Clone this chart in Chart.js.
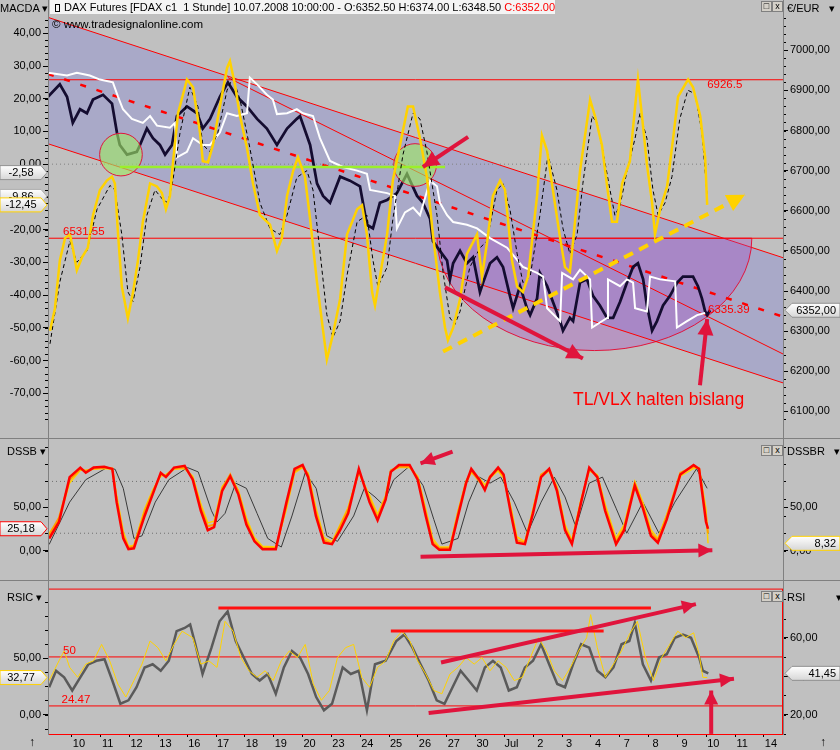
<!DOCTYPE html>
<html>
<head>
<meta charset="utf-8">
<script src="https://cdn.jsdelivr.net/npm/chart.js@4.4.1/dist/chart.umd.min.js"></script>
<style>
  body { margin: 0; width: 840px; height: 750px; background: #c0c0c0; position: relative; overflow: hidden; font-family: 'Liberation Sans', Arial, sans-serif; }
  canvas { position: absolute; left: 0; }
  .t { position: absolute; font-size: 11px; line-height: 14px; color: #000; white-space: pre; }
  .hl { position: absolute; left: 0; width: 840px; height: 1px; background: #808080; }
  .vl { position: absolute; width: 1px; background: #808080; }
  .btn { position: absolute; width: 9px; height: 9px; border: 1px solid #808080; background: #d4d0c8; font-size: 9px; line-height: 9px; text-align: center; }
</style>
</head>
<body>
<canvas id="macd" width="840" height="440" style="top:0"></canvas>
<canvas id="dss" width="840" height="142" style="top:438px"></canvas>
<canvas id="rsi" width="840" height="170" style="top:580px"></canvas>

<div class="hl" style="top:438px"></div>
<div class="hl" style="top:580px"></div>
<div class="vl" style="left:48px;top:0;height:735px"></div>
<div class="vl" style="left:783px;top:0;height:735px"></div>

<div class="t" style="left:0;top:1px">MACDA ▾</div>
<div class="t" style="left:50px;top:0;width:505px;height:14px;background:#f4f4f4"><span style="display:inline-block;width:3px;height:6px;border:1px solid #000;margin:0 4px 0 5px;position:relative;top:1px"></span>DAX Futures [FDAX c1  1 Stunde] 10.07.2008 10:00:00 - O:6352.50 H:6374.00 L:6348.50 <span style="color:#ff0000">C:6352.00</span></div>
<div class="t" style="left:52px;top:17px;font-size:11.5px">© www.tradesignalonline.com</div>
<div class="t" style="left:787px;top:1px">€/EUR   ▾</div>
<div class="btn" style="left:761px;top:1px">□</div>
<div class="btn" style="left:772px;top:1px">x</div>

<div class="t" style="left:7px;top:444px">DSSB ▾</div>
<div class="t" style="left:787px;top:444px">DSSBR   ▾</div>
<div class="btn" style="left:761px;top:445px">□</div>
<div class="btn" style="left:772px;top:445px">x</div>

<div class="t" style="left:7px;top:590px">RSIC ▾</div>
<div class="t" style="left:787px;top:590px">RSI          ▾</div>
<div class="btn" style="left:761px;top:591px">□</div>
<div class="btn" style="left:772px;top:591px">x</div>

<div class="t" style="left:29px;top:735px;font-size:12px">↑</div>
<div class="t" style="left:820px;top:735px;font-size:12px">↑</div>

<script>
// x axis: trading days (0 = 10 June), one unit per day
const dayLabels = ['10', '11', '12', '13', '16', '17', '18', '19', '20', '23', '24', '25', '26', '27', '30', 'Jul', '2', '3', '4', '7', '8', '9', '10', '11', '14'];
const X_MIN = -0.83, X_MAX = 24.66, X_END = 22.13;

// DAX future (hourly closes, approx.)
const priceDays = [-0.83, -0.42, -0.17, 0.03, 0.28, 0.52, 0.73, 1.08, 1.39, 1.56,
  1.66, 1.91, 2.25, 2.36, 2.60, 2.81, 3.05, 3.23, 3.47, 3.64,
  3.99, 4.34, 4.54, 4.79, 5.13, 5.41, 5.72, 6.07, 6.42, 6.76,
  7.11, 7.46, 7.80, 7.91, 8.26, 8.50, 8.71, 8.95, 9.30, 9.64,
  9.99, 10.23, 10.44, 10.68, 10.93, 11.27, 11.62, 11.97, 12.17, 12.42,
  12.52, 12.76, 13.01, 13.11, 13.22, 13.46, 13.70, 13.91, 14.15, 14.26,
  14.50, 14.74, 14.95, 15.19, 15.30, 15.54, 15.78, 15.89, 16.13, 16.23,
  16.48, 16.68, 16.93, 17.03, 17.27, 17.38, 17.62, 17.86, 18.07, 18.31,
  18.56, 18.77, 19.01, 19.25, 19.46, 19.63, 19.81, 19.94, 20.12, 20.29,
  20.50, 20.74, 20.99, 21.19, 21.54, 21.71, 21.85, 21.96, 22.03, 22.13];
const priceVals = [6884, 6915, 6884, 6819, 6853, 6843, 6877, 6889, 6867, 6795,
  6764, 6740, 6747, 6764, 6805, 6781, 6764, 6740, 6764, 6836,
  6860, 6843, 6805, 6829, 6884, 6920, 6884, 6860, 6829, 6805,
  6764, 6805, 6829, 6836, 6764, 6668, 6637, 6620, 6685, 6675,
  6661, 6565, 6556, 6620, 6627, 6644, 6692, 6637, 6620, 6580,
  6524, 6500, 6476, 6429, 6469, 6500, 6469, 6484, 6397, 6421,
  6469, 6484, 6460, 6388, 6357, 6412, 6357, 6340, 6381, 6445,
  6412, 6373, 6325, 6301, 6333, 6325, 6421, 6429, 6388, 6364,
  6333, 6333, 6373, 6421, 6460, 6469, 6429, 6364, 6301, 6325,
  6364, 6388, 6421, 6436, 6436, 6412, 6381, 6349, 6340, 6352];

// white stop line (VLX)
const vlxDays = [-0.83, -0.17, 0.17, 0.62, 0.97, 1.42, 1.60, 1.77, 2.08, 2.46,
  2.71, 2.95, 3.40, 3.57, 3.64, 3.99, 4.20, 4.54, 4.79, 5.13,
  5.38, 5.72, 6.07, 6.17, 6.42, 6.76, 6.97, 7.11, 7.46, 7.80,
  8.01, 8.36, 8.60, 8.95, 9.40, 9.89, 10.23, 10.34, 10.93, 11.20,
  11.27, 11.55, 11.83, 12.07, 12.42, 12.66, 12.76, 13.01, 13.22, 13.70,
  14.05, 14.50, 15.09, 15.64, 16.13, 16.34, 16.48, 16.93, 17.00, 17.38,
  17.62, 17.97, 18.04, 18.56, 18.59, 19.01, 19.25, 19.46, 19.53, 19.94,
  20.05, 20.40, 20.92, 20.98, 21.33, 21.68, 21.96];
const vlxVals = [6944, 6937, 6944, 6937, 6927, 6920, 6884, 6853, 6829, 6819,
  6836, 6812, 6807, 6819, 6733, 6747, 6781, 6764, 6764, 6795,
  6843, 6836, 6843, 6932, 6915, 6889, 6877, 6841, 6843, 6853,
  6843, 6836, 6781, 6724, 6709, 6700, 6692, 6652, 6644, 6637,
  6556, 6596, 6608, 6589, 6675, 6661, 6620, 6589, 6572, 6565,
  6556, 6532, 6508, 6460, 6445, 6436, 6357, 6325, 6445, 6429,
  6453, 6429, 6309, 6333, 6429, 6412, 6429, 6421, 6357, 6349,
  6436, 6429, 6424, 6309, 6325, 6340, 6345];

// MACDA (yellow) and its signal (dashed black)
const macdDays = [-0.76, -0.59, -0.42, -0.24, -0.07, 0.03, 0.17, 0.35, 0.55, 0.73,
  0.97, 1.21, 1.39, 1.49, 1.60, 1.73, 1.94, 2.12, 2.29, 2.46,
  2.71, 2.95, 3.12, 3.26, 3.40, 3.50, 3.68, 3.99, 4.20, 4.44,
  4.54, 4.72, 4.89, 5.13, 5.38, 5.48, 5.65, 5.83, 6.07, 6.28,
  6.52, 6.87, 7.11, 7.28, 7.46, 7.67, 7.84, 8.08, 8.26, 8.50,
  8.71, 8.84, 9.05, 9.30, 9.54, 9.89, 10.06, 10.23, 10.41, 10.51,
  10.68, 10.93, 11.13, 11.38, 11.65, 11.83, 12.07, 12.31, 12.52, 12.76,
  12.94, 13.04, 13.22, 13.46, 13.70, 14.05, 14.22, 14.39, 14.60, 14.85,
  15.02, 15.12, 15.26, 15.44, 15.64, 15.82, 16.13, 16.30, 16.48, 16.68,
  16.93, 17.10, 17.27, 17.38, 17.62, 17.97, 18.14, 18.38, 18.56, 18.73,
  18.90, 19.08, 19.35, 19.53, 19.63, 19.77, 19.94, 20.12, 20.22, 20.40,
  20.64, 20.85, 21.02, 21.37, 21.54, 21.79, 21.96, 22.03];
const macdVals = [-50.9, -44.1, -29.4, -22.6, -21.5, -25.6, -32.4, -28.5, -25.6, -15.6,
  -7.9, -5.0, -3.8, -5.9, -21.5, -37.4, -47.1, -39.1, -29.4, -17.6,
  -5.9, -6.8, -8.8, -13.8, -9.7, 0, 15.6, 25.9, 23.5, 9.7,
  0.9, 0.6, 5.9, 17.6, 29.4, 31.5, 24.4, 14.7, 5.0, -5.9,
  -15.6, -18.5, -26.5, -22.6, -9.7, -2.1, 2.1, -3.8, -16.8, -36.2,
  -50.9, -59.7, -52.1, -41.2, -21.5, -13.8, -12.6, -21.5, -39.1, -43.2,
  -34.4, -21.5, -5.0, 5.9, 17.6, 17.6, 7.9, -3.8, -21.5, -39.1,
  -50.0, -53.8, -50.0, -41.2, -27.4, -21.5, -34.4, -24.4, -9.7, -5.0,
  -7.9, -16.8, -29.4, -37.4, -39.1, -34.4, -9.7, 8.8, 4.0, -7.9,
  -22.6, -31.5, -32.9, -23.5, -2.1, 19.7, 14.7, 5.9, -6.8, -17.6,
  -17.6, -5.9, 0.9, 17.6, 25.9, 14.7, 0, -11.8, -21.5, -13.8,
  -6.8, 7.9, 20.6, 25.9, 23.5, 14.7, 2.1, -12.45];
const sigDays = [-0.76, -0.42, -0.07, 0.17, 0.52, 0.87, 1.32, 1.49, 1.73, 1.94,
  2.12, 2.36, 2.60, 2.88, 3.16, 3.33, 3.50, 3.75, 4.09, 4.37,
  4.54, 4.79, 5.06, 5.38, 5.58, 5.83, 6.17, 6.52, 6.87, 7.21,
  7.46, 7.80, 8.15, 8.36, 8.60, 8.84, 9.05, 9.30, 9.54, 9.89,
  10.23, 10.44, 10.61, 10.93, 11.13, 11.48, 11.83, 12.07, 12.31, 12.66,
  12.87, 13.11, 13.28, 13.46, 13.80, 14.15, 14.39, 14.74, 14.95, 15.19,
  15.44, 15.64, 15.89, 16.23, 16.51, 16.82, 17.03, 17.27, 17.52, 17.72,
  18.04, 18.21, 18.42, 18.66, 18.83, 19.01, 19.25, 19.53, 19.70, 19.94,
  20.15, 20.33, 20.57, 20.81, 21.08, 21.36, 21.61, 21.85, 22.03];
const sigVals = [-54.9, -36, -23.5, -30, -26.5, -13.8, -6.5, -7.9, -21.5, -39,
  -42, -31.5, -15.6, -7.9, -10.9, -11.8, -5, 9.7, 23.5, 17.6,
  5.9, 3.8, 9.7, 22.6, 26.5, 19.7, 5, -11.8, -19.7, -21.5,
  -15.6, -4, -2, -7.9, -26.5, -46, -53, -48, -34, -17.6,
  -15.6, -29.4, -37.4, -31.5, -16.8, 2.9, 15.6, 13.8, 3.8, -15.6,
  -33, -47, -49, -45, -31.5, -25.6, -23.5, -7.9, -5.9, -13.8,
  -27.4, -36.2, -34.4, -15.6, 2.9, -7.9, -19.7, -27.4, -21.5, -5.9,
  14.7, 12.6, 3.8, -7.9, -15.6, -12.6, -2.1, 7.9, 15.6, 7.9,
  -7.9, -15.6, -11.8, -3.8, 13.8, 22.6, 21.5, 9.7, -9.86];

// DSS Bressert (red / orange / yellow) and slow line (thin black)
const dssDays = [-0.79, -0.45, -0.08, 0.29, 0.48, 0.75, 1.12, 1.40, 1.55, 1.78,
  1.96, 2.15, 2.52, 2.80, 3.08, 3.26, 3.54, 3.91, 4.19, 4.47,
  4.71, 4.93, 5.21, 5.49, 5.77, 6.05, 6.33, 6.61, 7.07, 7.44,
  7.72, 8.00, 8.19, 8.46, 8.74, 9.02, 9.30, 9.58, 9.95, 10.32,
  10.60, 10.88, 11.06, 11.34, 11.71, 11.99, 12.27, 12.51, 12.74, 13.11,
  13.39, 13.67, 13.85, 14.13, 14.32, 14.50, 14.78, 14.97, 15.24, 15.43,
  15.71, 15.99, 16.27, 16.55, 16.82, 17.10, 17.34, 17.66, 17.94, 18.22,
  18.49, 18.87, 19.15, 19.52, 19.80, 20.08, 20.32, 20.63, 21.10, 21.56,
  21.75, 21.99, 22.06];
const dssRed = [13.9, 33, 85, 96, 90, 96, 97, 94.5, 56, 14,
  1.6, 2.6, 40, 65, 90, 85, 96, 98, 82, 46,
  23.5, 27, 69, 86, 65, 30, 10.6, 1.6, 1.6, 56,
  94.5, 99, 85, 40, 9, 7.4, 23.5, 43, 94.5, 56,
  35, 59, 91, 99, 99, 82, 40, 7.4, 1, 1,
  40, 78, 94.5, 82, 70, 85, 96, 88, 40, 9,
  7.4, 43, 85, 94.5, 69, 23.5, 7.4, 56, 96, 85,
  46, 7.4, 23.5, 75, 49, 17, 9, 36, 88, 99,
  94.5, 33, 25.18];
const dssOrange = [18, 38, 82, 94, 92, 95, 96, 95, 60, 18,
  3, 5, 45, 68, 88, 87, 95, 96, 84, 50,
  28, 30, 72, 88, 68, 34, 12, 3, 3, 52,
  92, 97, 88, 45, 12, 8, 28, 48, 92, 60,
  38, 62, 93, 97, 97, 84, 44, 10, 3, 3,
  44, 80, 92, 80, 72, 86, 94, 86, 44, 12,
  9, 46, 88, 94, 72, 26, 10, 58, 94, 86,
  50, 10, 26, 78, 52, 20, 12, 40, 90, 97,
  95, 40, 20];
const dssYellow = [20, 36, 78, 93, 93, 94, 95, 94, 64, 22,
  5, 6, 48, 70, 86, 88, 94, 95, 86, 54,
  32, 34, 74, 86, 70, 38, 15, 5, 4, 48,
  90, 96, 90, 50, 15, 10, 30, 50, 90, 64,
  42, 64, 92, 96, 96, 86, 48, 14, 4, 4,
  46, 78, 90, 84, 76, 84, 92, 84, 48, 16,
  10, 48, 86, 92, 74, 30, 12, 60, 92, 88,
  54, 14, 30, 80, 56, 24, 14, 42, 86, 95,
  96, 48, 8.32];
const dssSlowDays = [-0.79, -0.08, 0.48, 1.22, 1.50, 1.78, 2.15, 2.43, 2.89, 3.36,
  4.01, 4.38, 4.84, 5.03, 5.31, 5.68, 6.05, 6.42, 6.79, 7.26,
  7.63, 8.09, 8.47, 8.84, 9.21, 9.77, 10.14, 10.51, 10.79, 11.16,
  11.72, 12.18, 12.55, 12.83, 13.39, 13.76, 14.13, 14.50, 14.87, 15.34,
  15.80, 16.27, 16.73, 17.10, 17.48, 17.94, 18.40, 18.87, 19.24, 19.80,
  20.36, 20.91, 21.66, 22.03];
const dssSlowVals = [7, 56, 82, 96, 94, 72, 14, 17, 56, 82,
  96, 91, 46, 33, 43, 78, 72, 43, 14, 4,
  40, 90, 72, 17, 10.6, 40, 72, 62, 53, 82,
  98, 75, 36, 7.4, 14, 56, 85, 78, 85, 56,
  20, 56, 85, 62, 27, 78, 85, 49, 20, 56,
  20, 56, 94.5, 72];

// RSI (grey, right axis) and RSIC (yellow, left axis)
const rsiDays = [-0.79, -0.55, -0.27, 0.01, 0.29, 0.57, 0.85, 1.13, 1.40, 1.68,
  1.96, 2.24, 2.52, 2.80, 3.08, 3.36, 3.63, 3.91, 4.10, 4.28,
  4.53, 4.84, 5.12, 5.40, 5.68, 5.96, 6.24, 6.51, 6.79, 7.07,
  7.35, 7.63, 7.91, 8.19, 8.47, 8.74, 9.02, 9.39, 9.67, 9.95,
  10.23, 10.51, 10.88, 11.25, 11.53, 11.81, 12.09, 12.37, 12.65, 12.92,
  13.20, 13.48, 13.76, 14.04, 14.32, 14.60, 14.87, 15.15, 15.43, 15.71,
  15.99, 16.27, 16.55, 16.83, 17.10, 17.38, 17.66, 17.94, 18.22, 18.50,
  18.78, 19.06, 19.33, 19.52, 19.80, 20.08, 20.36, 20.63, 20.91, 21.19,
  21.47, 21.75, 21.88, 22.07];
const rsiVals = [34.2, 42.8, 39.4, 32.5, 39.4, 46.2, 48, 48.8, 37.7, 25.6,
  27.4, 34.2, 44.5, 46.2, 42.8, 48, 63.4, 65.1, 66.9, 56.6,
  41.1, 54.8, 68.6, 73.7, 58.3, 49.7, 41.1, 37.7, 41.1, 30.8,
  44.5, 53.1, 49.7, 41.1, 29.1, 22.2, 25.6, 44.5, 41.1, 42.8,
  22.2, 46.2, 48, 58.3, 61.7, 54.8, 46.2, 37.7, 27.4, 25.6,
  34.2, 42.8, 37.7, 32.5, 44.5, 48, 44.5, 32.5, 34.2, 44.5,
  48, 56.6, 46.2, 35.9, 34.2, 46.2, 56.6, 54.8, 42.8, 39.4,
  44.5, 56.6, 58.3, 67.7, 46.2, 37.7, 49.7, 51.4, 60, 61.7,
  60, 49.7, 42.8, 41.45];
const rsicDays = [-0.79, -0.45, -0.27, -0.08, 0.20, 0.48, 0.75, 1.03, 1.31, 1.59,
  1.87, 2.15, 2.43, 2.71, 2.98, 3.26, 3.54, 3.82, 4.19, 4.47,
  4.75, 5.03, 5.31, 5.59, 5.86, 6.14, 6.42, 6.70, 6.98, 7.26,
  7.54, 7.82, 8.09, 8.37, 8.65, 8.93, 9.21, 9.49, 9.77, 10.05,
  10.32, 10.60, 10.88, 11.16, 11.44, 11.72, 11.99, 12.27, 12.55, 12.83,
  13.11, 13.39, 13.67, 13.95, 14.22, 14.50, 14.78, 15.06, 15.34, 15.62,
  15.90, 16.18, 16.45, 16.73, 17.01, 17.29, 17.57, 17.85, 17.99, 18.22,
  18.50, 18.78, 19.06, 19.33, 19.61, 19.89, 20.17, 20.45, 20.73, 21.01,
  21.29, 21.56, 21.75, 21.88, 22.03];
const rsicVals = [30.1, 47.6, 56.4, 41.8, 33, 44.7, 47.6, 62.2, 47.6, 27.2,
  15.5, 30.1, 44.7, 65.2, 59.3, 47.6, 62.2, 73.9, 68.1, 44.7,
  47.6, 41.8, 82.7, 73.9, 50.5, 38.8, 33, 38.8, 30.1, 47.6,
  56.4, 50.5, 62.2, 27.2, 12.6, 21.3, 50.5, 59.3, 62.2, 33,
  24.2, 41.8, 47.6, 65.2, 73.9, 65.2, 47.6, 35.9, 21.3, 18.4,
  35.9, 41.8, 50.5, 44.7, 50.5, 38.8, 47.6, 41.8, 30.1, 33,
  50.5, 68.1, 56.4, 38.8, 30.1, 41.8, 56.4, 68.1, 88.6, 59.3,
  33, 44.7, 56.4, 71, 82.7, 50.5, 30.1, 50.5, 62.2, 73.9,
  68.1, 72.5, 53.5, 33, 32.77];

// drawn studies (day, value pairs)
const channelUpper = [7082, 6483];
const channelLower = [6767, 6171];
const channelMid = [6941, 6336];
const steepLine = [5.41, 6932, 24.66, 6243];
const priceLevels = [6926.5, 6531.55];
const greenLevel = [1.66, 12.94, 6709];
const yellowArrow = [12.87, 6249, 23.34, 6640];
const priceArrows = [[12.94, 6409, 17.72, 6232], [13.74, 6784, 12.17, 6709], [21.78, 6165, 22.03, 6330]];
const dssArrows = [[13.20, 114.5, 12.09, 101], [12.09, -7.2, 22.21, 0.3]];
const rsiLevels = [50, 24.47];
const rsiLines = [[5.08, 75.5, 20.08, 75.5], [11.06, 63.5, 18.44, 63.5]];
const rsiArrows = [[12.80, 47.1, 21.64, 77.5], [12.37, 20.8, 22.96, 38.6], [22.17, 9.9, 22.17, 32.5]];

const FONT = "'Liberation Sans', Arial, sans-serif";
const pts = (xs, ys) => xs.map((x, i) => ({ x, y: ys[i] }));
const seg = (x1, y1, x2, y2) => [{ x: x1, y: y1 }, { x: x2, y: y2 }];
const fmt = v => v.toFixed(2).replace('.', ',');

function line(data, axis, color, width, extra) {
  return Object.assign({ data, yAxisID: axis, borderColor: color, borderWidth: width, pointRadius: 0, fill: false, tension: 0 }, extra || {});
}

function yAxis(pos, min, max, values, show) {
  return {
    type: 'linear', position: pos, min, max,
    afterFit: s => { s.width = pos === 'left' ? 48 : 57; },
    afterBuildTicks: s => { s.ticks = values.map(v => ({ value: v })); },
    ticks: { display: show !== false, color: '#000', font: { family: FONT, size: 11 }, padding: 2, callback: v => fmt(v) },
    grid: { drawOnChartArea: false, drawTicks: true, tickLength: 5, color: '#000' },
    border: { display: false }
  };
}

function xAxis(show) {
  return {
    type: 'linear', min: X_MIN, max: X_MAX, display: show,
    afterFit: s => { s.height = 16; },
    afterBuildTicks: s => { s.ticks = dayLabels.map((_, i) => ({ value: i })); },
    ticks: { color: '#000', font: { family: FONT, size: 11 }, labelOffset: 7, padding: 0, maxRotation: 0, autoSkip: false, callback: v => dayLabels[v] },
    grid: { drawOnChartArea: false, drawTicks: true, tickLength: 3, color: '#000' },
    border: { display: false }
  };
}

function arrowHead(ctx, a, b, color, size) {
  const ang = Math.atan2(b.y - a.y, b.x - a.x);
  ctx.save();
  ctx.fillStyle = color;
  ctx.beginPath();
  ctx.moveTo(b.x, b.y);
  ctx.lineTo(b.x - size * Math.cos(ang) + size * 0.5 * Math.sin(ang), b.y - size * Math.sin(ang) - size * 0.5 * Math.cos(ang));
  ctx.lineTo(b.x - size * Math.cos(ang) - size * 0.5 * Math.sin(ang), b.y - size * Math.sin(ang) + size * 0.5 * Math.cos(ang));
  ctx.closePath();
  ctx.fill();
  ctx.restore();
}

function valueBox(ctx, scale, value, text, border) {
  const y = scale.getPixelForValue(value), h = 14;
  ctx.save();
  const g = ctx.createLinearGradient(0, y - h / 2, 0, y + h / 2);
  g.addColorStop(0, '#ffffff');
  g.addColorStop(1, '#d6d6d6');
  ctx.beginPath();
  if (scale.position === 'left') {
    const tip = scale.right - 1, x0 = 0;
    ctx.moveTo(x0, y - h / 2); ctx.lineTo(tip - 6, y - h / 2); ctx.lineTo(tip, y);
    ctx.lineTo(tip - 6, y + h / 2); ctx.lineTo(x0, y + h / 2);
  } else {
    const tip = scale.left + 2, x1 = 840;
    ctx.moveTo(tip, y); ctx.lineTo(tip + 7, y - h / 2); ctx.lineTo(x1, y - h / 2);
    ctx.lineTo(x1, y + h / 2); ctx.lineTo(tip + 7, y + h / 2);
  }
  ctx.closePath();
  ctx.fillStyle = g; ctx.fill();
  ctx.strokeStyle = border; ctx.lineWidth = 1; ctx.stroke();
  ctx.fillStyle = '#000';
  ctx.font = '11px ' + FONT;
  ctx.textBaseline = 'middle';
  if (scale.position === 'left') { ctx.textAlign = 'center'; ctx.fillText(text, 21, y + 0.5); }
  else { ctx.textAlign = 'right'; ctx.fillText(text, 836, y + 0.5); }
  ctx.restore();
}

const deco = {
  id: 'deco',
  afterDatasetDraw(chart, args, opts) {
    const ctx = chart.ctx, xs = chart.scales.x, area = chart.chartArea;
    (opts.ellipses || []).filter(e => e.after === args.index).forEach(e => {
      const ys = chart.scales[e.axis];
      const cx = xs.getPixelForValue(e.x), cy = ys.getPixelForValue(e.y);
      const rx = xs.getPixelForValue(e.x + e.rx) - cx, ry = ys.getPixelForValue(e.y - e.ry) - cy;
      ctx.save();
      ctx.beginPath(); ctx.rect(area.left, area.top, area.right - area.left, area.bottom - area.top); ctx.clip();
      ctx.beginPath(); ctx.ellipse(cx, cy, rx, ry, 0, 0, Math.PI); ctx.closePath();
      ctx.fillStyle = e.fill; ctx.fill();
      ctx.strokeStyle = e.stroke; ctx.lineWidth = 1; ctx.stroke();
      ctx.restore();
    });
    (opts.circles || []).filter(c => c.after === args.index).forEach(c => {
      const ys = chart.scales[c.axis];
      const cx = xs.getPixelForValue(c.x), cy = ys.getPixelForValue(c.y);
      const r = xs.getPixelForValue(c.x + c.r) - cx;
      ctx.save();
      ctx.beginPath(); ctx.arc(cx, cy, r, 0, Math.PI * 2);
      ctx.fillStyle = c.fill; ctx.fill();
      ctx.strokeStyle = c.stroke; ctx.lineWidth = 1; ctx.stroke();
      ctx.restore();
    });
    const ds = chart.data.datasets[args.index];
    if (ds.arrow) {
      const p = args.meta.data;
      arrowHead(ctx, p[p.length - 2], p[p.length - 1], ds.borderColor, ds.arrowSize || 12);
    }
  },
  afterDraw(chart, args, opts) {
    const ctx = chart.ctx, xs = chart.scales.x, area = chart.chartArea;
    (opts.minor || []).forEach(m => {
      const s = chart.scales[m.axis];
      ctx.save();
      ctx.strokeStyle = '#000'; ctx.lineWidth = 1;
      for (let v = Math.ceil(s.min / m.step) * m.step; v <= s.max; v += m.step) {
        const y = Math.round(s.getPixelForValue(v)) + 0.5;
        ctx.beginPath();
        if (s.position === 'left') { ctx.moveTo(s.right - 3, y); ctx.lineTo(s.right, y); }
        else { ctx.moveTo(s.left, y); ctx.lineTo(s.left + 3, y); }
        ctx.stroke();
      }
      ctx.restore();
    });
    if (opts.frame) {
      ctx.save();
      ctx.strokeStyle = opts.frame; ctx.lineWidth = 1;
      ctx.strokeRect(area.left + 0.5, area.top + 0.5, area.right - area.left - 1, area.bottom - area.top);
      ctx.restore();
    }
    (opts.texts || []).forEach(t => {
      const ys = chart.scales[t.axis];
      ctx.save();
      ctx.fillStyle = t.color; ctx.font = t.font;
      ctx.textAlign = 'left'; ctx.textBaseline = 'middle';
      ctx.fillText(t.text, xs.getPixelForValue(t.x), ys.getPixelForValue(t.y));
      ctx.restore();
    });
    (opts.boxes || []).forEach(b => valueBox(ctx, chart.scales[b.axis], b.value, b.text, b.border));
  }
};
Chart.register(deco);

const base = { responsive: false, animation: false, events: [], plugins: { legend: { display: false }, tooltip: { enabled: false } } };
const CRIMSON = '#e0143c';

// ---------- MACDA + price panel ----------
new Chart(document.getElementById('macd'), {
  type: 'line',
  data: {
    datasets: [
      line(seg(X_MIN, channelUpper[0], X_MAX, channelUpper[1]), 'yP', '#ff0000', 1, { fill: '+1', backgroundColor: '#a9a9c8', order: 100 }),
      line(seg(X_MIN, channelLower[0], X_MAX, channelLower[1]), 'yP', '#ff0000', 1, { order: 99 }),
      line(seg(X_MIN, priceLevels[0], X_MAX, priceLevels[0]), 'yP', '#ff0000', 1, { order: 98 }),
      line(seg(X_MIN, priceLevels[1], X_MAX, priceLevels[1]), 'yP', '#ff0000', 1, { order: 98 }),
      line(seg(X_MIN, channelMid[0], X_MAX, channelMid[1]), 'yP', '#ff0000', 2.5, { borderDash: [6, 11], order: 97 }),
      line(seg(steepLine[0], steepLine[1], steepLine[2], steepLine[3]), 'yP', '#ff0000', 1, { order: 97 }),
      line(seg(X_MIN, 0, X_END, 0), 'yM', '#808080', 1, { borderDash: [1, 3], order: 96 }),
      line(pts(priceDays, priceVals), 'yP', '#140c30', 2.75, { order: 60 }),
      line(pts(vlxDays, vlxVals), 'yP', '#ffffff', 2, { order: 55 }),
      line(seg(greenLevel[0], greenLevel[2], greenLevel[1], greenLevel[2]), 'yP', '#9bef2a', 2.5, { order: 50 }),
      line(pts(sigDays, sigVals), 'yM', '#000000', 1, { borderDash: [4, 3], order: 40 }),
      line(pts(macdDays, macdVals), 'yM', '#ffd200', 2.5, { order: 30 }),
      line(seg(yellowArrow[0], yellowArrow[1], yellowArrow[2], yellowArrow[3]), 'yP', '#ffd200', 4, { borderDash: [10, 7], arrow: true, arrowSize: 18, order: 20 }),
      ...priceArrows.map(a => line(seg(a[0], a[1], a[2], a[3]), 'yP', CRIMSON, 4, { arrow: true, arrowSize: 16, order: 10 }))
    ]
  },
  options: Object.assign({}, base, {
    layout: { padding: { top: 14, bottom: 3, left: 0, right: 0 } },
    scales: {
      x: xAxis(false),
      yM: yAxis('left', -78.5, 45.9, [-70, -60, -50, -40, -30, -20, -10, 0, 10, 20, 30, 40]),
      yP: yAxis('right', 6076, 7090.4, [6100, 6200, 6300, 6400, 6500, 6600, 6700, 6800, 6900, 7000])
    },
    plugins: Object.assign({}, base.plugins, {
      deco: {
        ellipses: [{ after: 0, axis: 'yP', x: 18.12, y: 6531.55, rx: 5.46, ry: 280, fill: 'rgba(165,75,195,0.36)', stroke: '#e0143c' }],
        circles: [
          { after: 7, axis: 'yP', x: 1.70, y: 6740, r: 0.74, fill: 'rgba(160,232,100,0.62)', stroke: '#e0143c' },
          { after: 7, axis: 'yP', x: 11.90, y: 6714, r: 0.74, fill: 'rgba(160,232,100,0.62)', stroke: '#e0143c' }
        ],
        minor: [{ axis: 'yM', step: 2 }, { axis: 'yP', step: 20 }],
        texts: [
          { axis: 'yP', x: 22.03, y: 6913, text: '6926.5', color: '#ff0000', font: '11.5px ' + FONT },
          { axis: 'yP', x: -0.31, y: 6548, text: '6531.55', color: '#ff0000', font: '11.5px ' + FONT },
          { axis: 'yP', x: 22.06, y: 6354, text: '6335.39', color: '#ff0000', font: '11.5px ' + FONT },
          { axis: 'yP', x: 17.38, y: 6129, text: 'TL/VLX halten bislang', color: '#ff0000', font: '17.5px ' + FONT }
        ],
        boxes: [
          { axis: 'yM', value: -2.58, text: '-2,58', border: '#909090' },
          { axis: 'yM', value: -9.86, text: '-9,86', border: '#b0b0b0' },
          { axis: 'yM', value: -12.45, text: '-12,45', border: '#ffd200' },
          { axis: 'yP', value: 6352, text: '6352,00', border: '#909090' }
        ]
      }
    })
  })
});

// ---------- DSS Bressert panel ----------
new Chart(document.getElementById('dss'), {
  type: 'line',
  data: {
    datasets: [
      line(seg(X_MIN, 80, X_END, 80), 'yD', '#707070', 1, { borderDash: [1, 3], order: 90 }),
      line(seg(X_MIN, 20, X_END, 20), 'yD', '#707070', 1, { borderDash: [1, 3], order: 90 }),
      line(pts(dssSlowDays, dssSlowVals), 'yD', '#3a3a3a', 1, { order: 50 }),
      line(pts(dssDays, dssYellow), 'yD', '#ffd200', 1.5, { order: 40 }),
      line(pts(dssDays, dssOrange), 'yD', '#ffa000', 2, { order: 30 }),
      line(pts(dssDays, dssRed), 'yD', '#ff0000', 2.5, { order: 20 }),
      ...dssArrows.map(a => line(seg(a[0], a[1], a[2], a[3]), 'yD', CRIMSON, 4, { arrow: true, arrowSize: 14, order: 10, clip: false }))
    ]
  },
  options: Object.assign({}, base, {
    layout: { padding: { top: 2, bottom: 2, left: 0, right: 0 } },
    scales: {
      x: xAxis(false),
      yD: yAxis('left', -13.3, 120.3, [0, 50]),
      yR: yAxis('right', -13.3, 120.3, [0, 50])
    },
    plugins: Object.assign({}, base.plugins, {
      deco: {
        minor: [{ axis: 'yD', step: 20 }, { axis: 'yR', step: 20 }],
        boxes: [
          { axis: 'yD', value: 25.18, text: '25,18', border: '#ff0000' },
          { axis: 'yR', value: 8.32, text: '8,32', border: '#ffd200' }
        ]
      }
    })
  })
});

// ---------- RSI panel ----------
new Chart(document.getElementById('rsi'), {
  type: 'line',
  data: {
    datasets: [
      line(seg(X_MIN, rsiLevels[0], X_MAX, rsiLevels[0]), 'yS', '#ff0000', 1, { order: 90 }),
      line(seg(X_MIN, rsiLevels[1], X_MAX, rsiLevels[1]), 'yS', '#ff0000', 1, { order: 90 }),
      line(pts(rsiDays, rsiVals), 'yS', '#5a5a5a', 2.5, { order: 50 }),
      line(pts(rsicDays, rsicVals), 'yC', '#ffd200', 1, { order: 40 }),
      ...rsiLines.map(a => line(seg(a[0], a[1], a[2], a[3]), 'yS', '#ff1010', 3, { order: 12 })),
      ...rsiArrows.map(a => line(seg(a[0], a[1], a[2], a[3]), 'yS', CRIMSON, 4, { arrow: true, arrowSize: 14, order: 10, clip: false }))
    ]
  },
  options: Object.assign({}, base, {
    layout: { padding: { top: 7, bottom: 0, left: 0, right: 0 } },
    scales: {
      x: xAxis(true),
      yC: yAxis('left', -17.3, 111.7, [0, 50]),
      yS: yAxis('right', 9.85, 85.6, [20, 40, 60])
    },
    plugins: Object.assign({}, base.plugins, {
      deco: {
        frame: '#ff0000',
        minor: [{ axis: 'yC', step: 12.5 }, { axis: 'yS', step: 10 }],
        texts: [
          { axis: 'yS', x: -0.31, y: 53.1, text: '50', color: '#ff0000', font: '11.5px ' + FONT },
          { axis: 'yS', x: -0.36, y: 27.7, text: '24.47', color: '#ff0000', font: '11.5px ' + FONT }
        ],
        boxes: [
          { axis: 'yC', value: 32.77, text: '32,77', border: '#ffd200' },
          { axis: 'yS', value: 41.45, text: '41,45', border: '#909090' }
        ]
      }
    })
  })
});
</script>
</body>
</html>
